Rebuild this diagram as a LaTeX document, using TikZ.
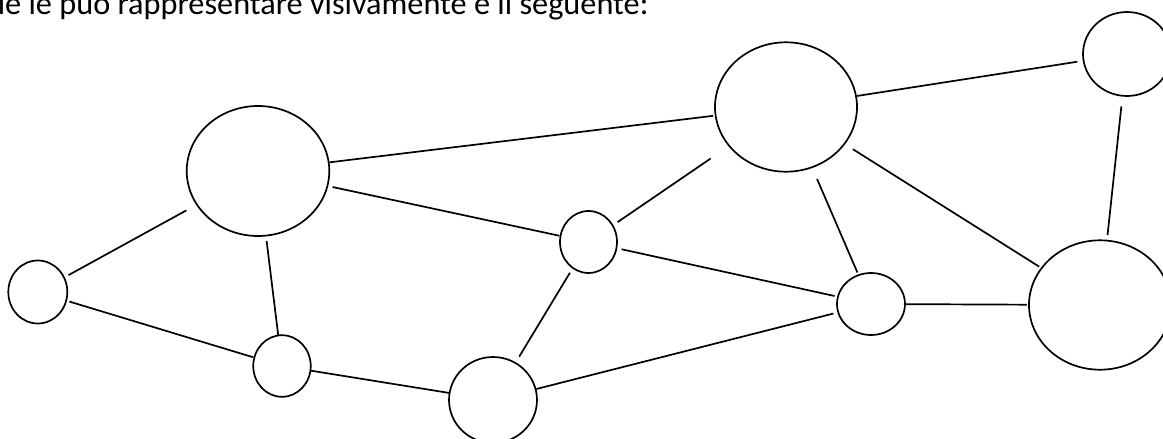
\documentclass[tikz,border=0pt]{standalone}
\usepackage{fontspec}
\setmainfont{Carlito}
\usetikzlibrary{shapes.geometric,calc}
\begin{document}
\begin{tikzpicture}[x=1pt,y=-1pt,
  vtx/.style={draw=black,line width=1.7pt,ellipse,inner sep=0pt,outer sep=0pt},
  lnk/.style={draw=black,line width=1.7pt}]
\useasboundingbox (0,0) rectangle (1163,439);
\clip (0,0) rectangle (1163,439);
\node[anchor=base west,inner sep=0pt,font=\fontsize{32.3}{38}\selectfont] (txt) at (-2.4,14) {le le può rappresentare visivamente è il seguente:};
\node[vtx,minimum width=59pt,minimum height=63pt] (A) at (37.8,292) {};
\node[vtx,minimum width=142.6pt,minimum height=130pt] (B) at (258,171) {};
\node[vtx,minimum width=57.5pt,minimum height=61.6pt] (C) at (282,366) {};
\node[vtx,minimum width=88pt,minimum height=86pt] (D) at (493,400) {};
\node[vtx,minimum width=57pt,minimum height=62pt] (E) at (588.5,242) {};
\node[vtx,minimum width=142pt,minimum height=129.4pt] (F) at (786,107) {};
\node[vtx,minimum width=88pt,minimum height=84pt] (G) at (1127,54) {};
\node[vtx,minimum width=68pt,minimum height=62pt] (H) at (871,304) {};
\node[vtx,minimum width=142pt,minimum height=129.4pt] (I) at (1100,305) {};
\draw[lnk] ($(A)!35pt!(B)$) -- ($(B)!81.7pt!(A)$);
\draw[lnk] ($(A)!33pt!(C)$) -- ($(C)!30.2pt!(A)$);
\draw[lnk] ($(B)!70.5pt!(C)$) -- ($(C)!31.4pt!(B)$);
\draw[lnk] ($(B)!76.3pt!(E)$) -- ($(E)!29.8pt!(B)$);
\draw[lnk] ($(B)!71.9pt!(F)$) -- ($(F)!73.4pt!(B)$);
\draw[lnk] ($(C)!29.2pt!(D)$) -- ($(D)!44.1pt!(C)$);
\draw[lnk] ($(D)!50.7pt!(E)$) -- ($(E)!35.9pt!(D)$);
\draw[lnk] ($(D)!44.8pt!(H)$) -- ($(H)!38.8pt!(D)$);
\draw[lnk] ($(E)!35.3pt!(F)$) -- ($(F)!91.2pt!(E)$);
\draw[lnk] ($(E)!33.9pt!(H)$) -- ($(H)!37.3pt!(E)$);
\draw[lnk] ($(F)!72pt!(G)$) -- ($(G)!50.3pt!(F)$);
\draw[lnk] ($(F)!78.4pt!(H)$) -- ($(H)!34.3pt!(F)$);
\draw[lnk] ($(F)!79.1pt!(I)$) -- ($(I)!71.9pt!(F)$);
\draw[lnk] ($(G)!52.7pt!(I)$) -- ($(I)!70.4pt!(G)$);
\draw[lnk] ($(H)!32.8pt!(I)$) -- ($(I)!73.1pt!(H)$);
\end{tikzpicture}
\end{document}
